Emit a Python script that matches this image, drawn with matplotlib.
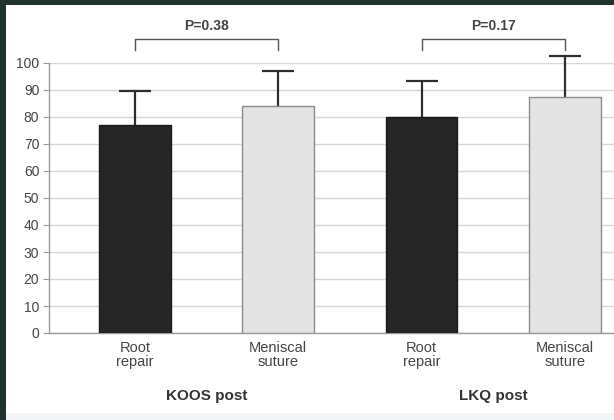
import numpy as np
import matplotlib
matplotlib.use('Agg')
import matplotlib.pyplot as plt
from matplotlib.patches import Rectangle

plt.rcParams['font.family'] = ['Liberation Sans', 'DejaVu Sans']

# group means and SDs (KOOS post, LKQ post)
groups = ['KOOS post', 'LKQ post']
tick_labels = ['Root\nrepair', 'Meniscal\nsuture', 'Root\nrepair', 'Meniscal\nsuture']
means = [77, 84, 80, 87.5]
sds = [12.5, 13, 13.5, 15]
pvals = ['P=0.38', 'P=0.17']
yticks = list(range(0, 101, 10))

bar_colors = ['#262626', '#e4e4e4', '#262626', '#e4e4e4']
edge_colors = ['#1a1a1a', '#8c8c8c', '#1a1a1a', '#8c8c8c']

W, H = 614, 420
fig = plt.figure(figsize=(W/100, H/100), dpi=100)
fig.patch.set_facecolor('#20322c')
# white panel + light strip at the bottom
fig.patches.append(Rectangle((6/W, 7/H), 1, (H - 12)/H, transform=fig.transFigure,
                             facecolor='white', edgecolor='none', zorder=-10))
fig.patches.append(Rectangle((6/W, 0), 1, 7/H, transform=fig.transFigure,
                             facecolor='#f2f4f7', edgecolor='none', zorder=-10))

ax = fig.add_axes([49/W, 87/H, 565/W, 270/H])
ax.set_facecolor('none')

x = np.arange(len(means))
ax.bar(x, means, width=0.5, color=bar_colors, edgecolor=edge_colors,
       linewidth=1, zorder=3)
# lower half of the whiskers sits behind the bars
eb = ax.errorbar(x, means, yerr=sds, fmt='none', ecolor='#2e2e2e',
                 elinewidth=1.6, capsize=11.5, capthick=1.6, zorder=2)
for artist in eb.get_children():
    artist.set_clip_on(False)

ax.set_xlim(-0.6, 3.343)
ax.set_ylim(0, 100)
ax.set_yticks(yticks)
ax.yaxis.grid(True, color='#d6d6d6', linewidth=1)
ax.set_axisbelow(True)
ax.set_xticks(x)
ax.set_xticklabels(tick_labels, fontsize=10.5, color='#444444', linespacing=1.0)
ax.tick_params(axis='x', length=0, pad=6)
ax.tick_params(axis='y', length=4, color='#999999', labelsize=10,
               labelcolor='#444444', pad=3)
for s in ['top', 'right']:
    ax.spines[s].set_visible(False)
for s in ['left', 'bottom']:
    ax.spines[s].set_color('#9a9a9a')
    ax.spines[s].set_linewidth(1)

# significance brackets
for i, p in enumerate(pvals):
    x0, x1 = 2*i, 2*i + 1
    ax.plot([x0, x0, x1, x1], [104.8, 108.8, 108.8, 104.8], color='#555555',
            linewidth=1, clip_on=False)
    ax.text((x0 + x1)/2, 111, p, ha='center', va='bottom', fontsize=10,
            fontweight='bold', color='#444444', clip_on=False)

# group labels
for i, g in enumerate(groups):
    ax.text(2*i + 0.5, -23.5, g, ha='center', va='center', fontsize=11,
            fontweight='bold', color='#333333', clip_on=False)

fig.savefig('out.png', dpi=100, facecolor=fig.get_facecolor())
